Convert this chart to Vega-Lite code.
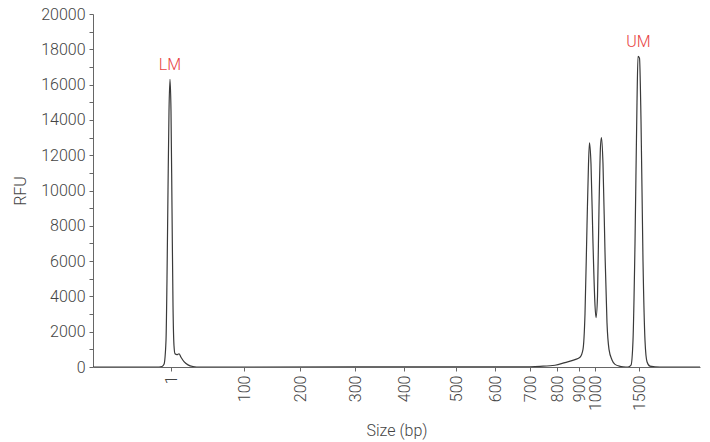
{
  "$schema": "https://vega.github.io/schema/vega-lite/v6.json",
  "width": 607,
  "height": 353,
  "autosize": {"type": "none"},
  "padding": {"left": 93, "top": 14, "right": 10, "bottom": 75},
  "background": "white",
  "config": {
    "view": {"stroke": null},
    "font": "Roboto",
    "axis": {
      "labelFont": "Roboto",
      "titleFont": "Roboto",
      "labelFontSize": 16,
      "titleFontSize": 16,
      "labelFontWeight": 300,
      "titleFontWeight": 300,
      "labelColor": "#444",
      "titleColor": "#444",
      "domainColor": "#666",
      "tickColor": "#666",
      "labelOverlap": false,
      "grid": false
    }
  },
  "datasets": {
    "trace": [
      {"t": 0, "rfu": 0},
      {"t": 6.6, "rfu": 0},
      {"t": 6.9, "rfu": 30},
      {"t": 7.1, "rfu": 150},
      {"t": 7.3, "rfu": 1500},
      {"t": 7.4, "rfu": 5000},
      {"t": 7.5, "rfu": 10000},
      {"t": 7.6, "rfu": 14500},
      {"t": 7.7, "rfu": 16300},
      {"t": 7.8, "rfu": 14500},
      {"t": 7.9, "rfu": 9000},
      {"t": 8.0, "rfu": 3500},
      {"t": 8.1, "rfu": 1200},
      {"t": 8.2, "rfu": 750},
      {"t": 8.4, "rfu": 700},
      {"t": 8.6, "rfu": 750},
      {"t": 8.8, "rfu": 550},
      {"t": 9.1, "rfu": 300},
      {"t": 9.5, "rfu": 120},
      {"t": 10.0, "rfu": 30},
      {"t": 10.7, "rfu": 0},
      {"t": 42.7, "rfu": 10},
      {"t": 44.7, "rfu": 40},
      {"t": 46.2, "rfu": 100},
      {"t": 47.2, "rfu": 250},
      {"t": 48.2, "rfu": 420},
      {"t": 48.7, "rfu": 550},
      {"t": 49.0, "rfu": 1000},
      {"t": 49.2, "rfu": 3000},
      {"t": 49.4, "rfu": 8000},
      {"t": 49.55, "rfu": 11500},
      {"t": 49.65, "rfu": 12700},
      {"t": 49.8, "rfu": 11500},
      {"t": 50.0, "rfu": 7000},
      {"t": 50.2, "rfu": 3500},
      {"t": 50.3, "rfu": 2800},
      {"t": 50.45, "rfu": 4000},
      {"t": 50.6, "rfu": 9000},
      {"t": 50.75, "rfu": 12500},
      {"t": 50.85, "rfu": 13000},
      {"t": 51.0, "rfu": 11500},
      {"t": 51.2, "rfu": 6500},
      {"t": 51.4, "rfu": 2500},
      {"t": 51.6, "rfu": 1000},
      {"t": 51.9, "rfu": 400},
      {"t": 52.2, "rfu": 150},
      {"t": 52.7, "rfu": 40},
      {"t": 53.3, "rfu": 0},
      {"t": 53.5, "rfu": 0},
      {"t": 53.8, "rfu": 100},
      {"t": 54.0, "rfu": 1500},
      {"t": 54.2, "rfu": 7000},
      {"t": 54.4, "rfu": 15000},
      {"t": 54.5, "rfu": 17600},
      {"t": 54.65, "rfu": 17500},
      {"t": 54.8, "rfu": 14000},
      {"t": 55.0, "rfu": 6000},
      {"t": 55.2, "rfu": 1500},
      {"t": 55.4, "rfu": 300},
      {"t": 55.7, "rfu": 50},
      {"t": 56.7, "rfu": 0},
      {"t": 60.7, "rfu": 0}
    ],
    "markers": [
      {"t": 7.7, "rfu": 16300, "label": "LM"},
      {"t": 54.55, "rfu": 17600, "label": "UM"}
    ]
  },
  "encoding": {
    "x": {
      "field": "t",
      "type": "quantitative",
      "scale": {"domain": [0, 60.7], "nice": false, "zero": false},
      "axis": {
        "title": "Size (bp)",
        "titlePadding": 12,
        "values": [7.8, 15.1, 20.7, 26.2, 31.1, 36.3, 40.2, 43.7, 46.4, 48.6, 50.2, 54.6],
        "labelExpr": "['1','100','200','300','400','500','600','700','800','900','1000','1500'][indexof([7.8, 15.1, 20.7, 26.2, 31.1, 36.3, 40.2, 43.7, 46.4, 48.6, 50.2, 54.6], datum.value)]",
        "labelAngle": -90,
        "labelAlign": "right",
        "labelBaseline": "middle",
        "labelPadding": 4,
        "labelFontSize": 16,
        "tickSize": 4,
        "labelOverlap": false,
        "labelFlush": false
      }
    },
    "y": {
      "field": "rfu",
      "type": "quantitative",
      "scale": {"domain": [0, 20000], "nice": false},
      "axis": {
        "title": "RFU",
        "titlePadding": 12,
        "values": [0,1000,2000,3000,4000,5000,6000,7000,8000,9000,10000,11000,12000,13000,14000,15000,16000,17000,18000,19000,20000],
        "labelExpr": "datum.value % 2000 == 0 ? format(datum.value, 'd') : ''",
        "labelOverlap": false,
        "labelFlush": false,
        "labelFontSize": 16,
        "tickSize": 4,
        "labelPadding": 4
      }
    }
  },
  "layer": [
    {
      "data": {"name": "trace"},
      "mark": {"type": "line", "color": "#3a3a3a", "strokeWidth": 1.2, "interpolate": "monotone", "clip": true}
    },
    {
      "data": {"name": "markers"},
      "mark": {"type": "text", "color": "#e84343", "fontSize": 16, "font": "Roboto", "fontWeight": 300, "baseline": "bottom", "dy": -6},
      "encoding": {
        "text": {"field": "label"}
      }
    }
  ]
}
